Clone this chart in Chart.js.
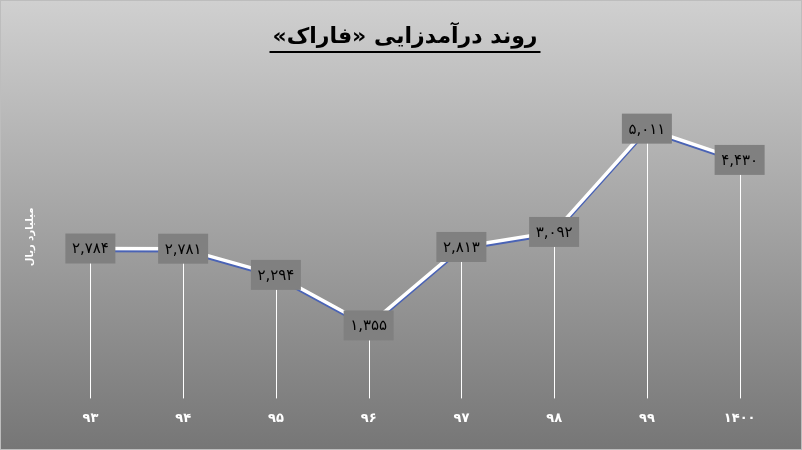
<!DOCTYPE html>
<html>
<head>
<meta charset="utf-8">
<script src="https://cdn.jsdelivr.net/npm/chart.js@4"></script>
<style>
  html, body { margin: 0; padding: 0; background: #fff; }
  #wrap { width: 802px; height: 450px; }
</style>
</head>
<body>
<div id="wrap"><canvas id="revenueChart"></canvas></div>
<script>
// سال‌ها و درآمد (میلیارد ریال)
const years = ['۹۳', '۹۴', '۹۵', '۹۶', '۹۷', '۹۸', '۹۹', '۱۴۰۰'];
const revenue = [2784, 2781, 2294, 1355, 2813, 3092, 5011, 4430];
// RLE ... PDF so the guillemets stay in place on the canvas
const chartTitle = '\u202Bروند درآمدزایی «فاراک»\u202C';
const yTitle = 'میلیارد ریال';
const titleFont = 'bold 22px "DejaVu Sans"';

const faDigits = '۰۱۲۳۴۵۶۷۸۹';
function toFa(n) {
    return n.toLocaleString('en-US').replace(/\d/g, d => faDigits[d]);
}

// gradient background + title underline
const bgPlugin = {
    id: 'bg',
    beforeDraw(chart) {
        const ctx = chart.ctx;
        const g = ctx.createLinearGradient(0, 0, 0, chart.height);
        g.addColorStop(0, '#d0d0d0');
        g.addColorStop(1, '#767676');
        ctx.save();
        ctx.fillStyle = g;
        ctx.fillRect(0, 0, chart.width, chart.height);
        ctx.strokeStyle = '#bdbdbd';
        ctx.strokeRect(0.5, 0.5, chart.width - 1, chart.height - 1);
        ctx.restore();
    },
    afterDraw(chart) {
        const t = chart.titleBlock;
        const ctx = chart.ctx;
        ctx.save();
        ctx.font = titleFont;
        const w = ctx.measureText(chartTitle).width;
        const cx = (t.left + t.right) / 2;
        const y = t.top + t.options.padding.top + 28;
        ctx.strokeStyle = '#000';
        ctx.lineWidth = 2;
        ctx.beginPath();
        ctx.moveTo(cx - w / 2 - 3, y);
        ctx.lineTo(cx + w / 2 + 3, y);
        ctx.stroke();
        ctx.restore();
    }
};

// drop lines, blue edge under the line, and value boxes
const markPlugin = {
    id: 'marks',
    beforeDatasetsDraw(chart) {
        const ctx = chart.ctx;
        const bottom = chart.scales.y.getPixelForValue(0);
        ctx.save();
        ctx.strokeStyle = '#ffffff';
        ctx.lineWidth = 1;
        chart.getDatasetMeta(0).data.forEach(p => {
            ctx.beginPath();
            ctx.moveTo(Math.round(p.x) + 0.5, p.y);
            ctx.lineTo(Math.round(p.x) + 0.5, bottom);
            ctx.stroke();
        });
        ctx.restore();
    },
    beforeDatasetDraw(chart) {
        const ctx = chart.ctx;
        ctx.save();
        ctx.shadowColor = '#4a63b5';
        ctx.shadowOffsetX = 0;
        ctx.shadowOffsetY = 2;
        ctx.shadowBlur = 0;
    },
    afterDatasetDraw(chart) {
        chart.ctx.restore();
    },
    afterDatasetsDraw(chart) {
        const ctx = chart.ctx;
        ctx.save();
        ctx.font = '15px "DejaVu Sans"';
        ctx.textAlign = 'center';
        ctx.textBaseline = 'middle';
        chart.getDatasetMeta(0).data.forEach((p, i) => {
            const bw = 50, bh = 30;
            ctx.fillStyle = '#808080';
            ctx.fillRect(p.x - bw / 2, p.y - bh / 2, bw, bh);
            ctx.fillStyle = '#000';
            ctx.fillText(toFa(revenue[i]), p.x, p.y + 1);
        });
        ctx.restore();
    }
};

const ctxRevenue = document.getElementById('revenueChart').getContext('2d');

const revenueChart = new Chart(ctxRevenue, {
    type: 'line',
    data: {
        labels: years,
        datasets: [{
            label: 'درآمد',
            data: revenue,
            borderColor: '#ffffff',
            borderWidth: 3.5,
            pointRadius: 0,
            fill: false,
            tension: 0
        }]
    },
    options: {
        responsive: true,
        maintainAspectRatio: false,
        animation: false,
        layout: { padding: { left: 24, right: 16, top: 14, bottom: 12 } },
        plugins: {
            legend: { display: false },
            tooltip: { enabled: false },
            title: {
                display: true,
                text: chartTitle,
                color: '#000',
                font: { family: 'DejaVu Sans', size: 22, weight: 'bold' },
                padding: { top: 10, bottom: 25 }
            }
        },
        scales: {
            x: {
                offset: true,
                grid: { display: false, drawTicks: false },
                border: { display: false },
                ticks: {
                    color: '#ffffff',
                    padding: 12,
                    font: { family: 'DejaVu Sans', size: 13, weight: 'bold' }
                }
            },
            y: {
                min: 0,
                max: 6000,
                grid: { display: false, drawTicks: false },
                border: { display: false },
                ticks: { display: false },
                title: {
                    display: true,
                    text: yTitle,
                    color: '#ffffff',
                    font: { family: 'DejaVu Sans', size: 10, weight: 'bold' },
                    padding: { top: 0, bottom: 8 }
                }
            }
        }
    },
    plugins: [bgPlugin, markPlugin]
});
</script>
</body>
</html>
